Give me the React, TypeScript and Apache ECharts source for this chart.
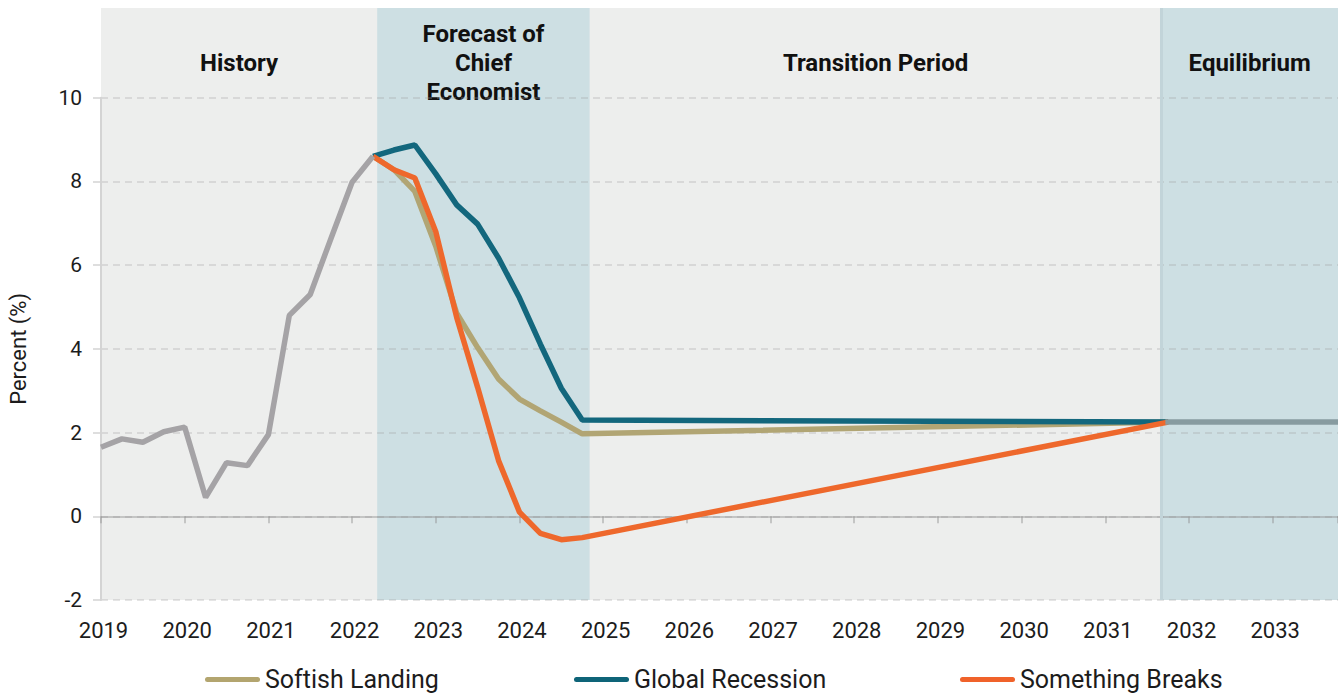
import React, { useEffect, useRef } from "react";
import * as echarts from "echarts";

// ---------- data ----------
const history: [string, number][] = [
  ["2019Q1", 1.65], ["2019Q2", 1.85], ["2019Q3", 1.77], ["2019Q4", 2.02],
  ["2020Q1", 2.13], ["2020Q2", 0.45], ["2020Q3", 1.28], ["2020Q4", 1.21],
  ["2021Q1", 1.95], ["2021Q2", 4.8], ["2021Q3", 5.3], ["2021Q4", 6.65],
  ["2022Q1", 7.98], ["2022Q2", 8.6],
];

const softishLanding: [string, number][] = [
  ["2022Q2", 8.6], ["2022Q3", 8.28], ["2022Q4", 7.76], ["2023Q1", 6.45],
  ["2023Q2", 4.85], ["2023Q3", 4.03], ["2023Q4", 3.28], ["2024Q1", 2.8],
  ["2024Q2", 2.52], ["2024Q3", 2.25], ["2024Q4", 1.97], ["2031Q4", 2.25],
];

const globalRecession: [string, number][] = [
  ["2022Q2", 8.6], ["2022Q3", 8.75], ["2022Q4", 8.87], ["2023Q1", 8.18],
  ["2023Q2", 7.44], ["2023Q3", 6.98], ["2023Q4", 6.17], ["2024Q1", 5.22],
  ["2024Q2", 4.11], ["2024Q3", 3.06], ["2024Q4", 2.3], ["2031Q4", 2.25],
];

const somethingBreaks: [string, number][] = [
  ["2022Q2", 8.6], ["2022Q3", 8.28], ["2022Q4", 8.08], ["2023Q1", 6.8],
  ["2023Q2", 4.75], ["2023Q3", 3.08], ["2023Q4", 1.33], ["2024Q1", 0.1],
  ["2024Q2", -0.41], ["2024Q3", -0.56], ["2024Q4", -0.51], ["2031Q4", 2.25],
];

const equilibrium: [string, number][] = [
  ["2031Q4", 2.25], ["2033Q4", 2.25],
];

const phaseNames = ["History", "Forecast of\nChief\nEconomist", "Transition Period", "Equilibrium"];
const phaseStarts = [2019, 2022.3, 2024.84, 2031.67];
const phaseEnds = [2022.3, 2024.84, 2031.67, 2033.78];

const xMin = 2019;
const xMax = 2033.78;
const yMin = -2;
const yMax = 10;
const yInterval = 2;

// ---------- helpers ----------
const quarterToYear = (q: string) => Number(q.slice(0, 4)) + (Number(q.slice(5)) - 1) * 0.25;
const toPoints = (pairs: [string, number][]) => pairs.map(([q, v]) => [quarterToYear(q), v]);

const FONT = "Roboto";
const TEXT = "#1c1c1c";
const GREY_BG = "#EDEEED";
const BLUE_BG = "#CDDFE3";
const GRID_LINE = "rgba(160,160,160,0.36)";
const ZERO_LINE = "rgba(140,140,140,0.42)";

const LEGEND_ICON = "path://M2.5,0 L52.5,0 A2.5,2.5 0 0 1 52.5,5 L2.5,5 A2.5,2.5 0 0 1 2.5,0 Z";

const scenarios = [
  { name: "Softish Landing", data: softishLanding, normal: "#B1A574", forecast: "#8F9A6C", legend: "#B3A56F", left: 205 },
  { name: "Global Recession", data: globalRecession, normal: "#13677D", forecast: "#0D6074", legend: "#0E6478", left: 574 },
  { name: "Something Breaks", data: somethingBreaks, normal: "#EE682C", forecast: "#C95B27", legend: "#F0622A", left: 960 },
];

export default function App() {
  const ref = useRef<HTMLDivElement>(null);

  useEffect(() => {
    if (!ref.current) return;
    const chart = echarts.init(ref.current, undefined, { renderer: "svg" });

    const bandColors = [GREY_BG, BLUE_BG, GREY_BG, BLUE_BG];

    const option: any = {
      animation: false,
      textStyle: { fontFamily: FONT },
      grid: [
        { left: 101, right: 0, top: 97.7, bottom: 96, containLabel: false, outerBoundsMode: "none" },
        {
          left: 101, right: 0, top: 8, bottom: 96, show: true, backgroundColor: GREY_BG, borderWidth: 0,
          containLabel: false, outerBoundsMode: "none",
        },
      ],
      xAxis: [
        {
          gridIndex: 0, type: "value", min: xMin, max: xMax, interval: 1, position: "bottom", z: 3,
          axisLine: { show: false, onZero: false },
          axisTick: { show: false },
          splitLine: { show: false },
          axisLabel: {
            fontSize: 22, color: TEXT, margin: 19, fontFamily: FONT, padding: [0, 0, 0, 5],
            showMaxLabel: false,
            formatter: (v: number) => (Number.isInteger(v) ? String(v) : ""),
          },
        },
        {
          gridIndex: 0, type: "value", min: xMin, max: xMax, interval: 1, position: "bottom", z: 3,
          axisLine: { show: true, onZero: true, lineStyle: { color: ZERO_LINE, width: 2 } },
          axisTick: { show: true, length: 7, lineStyle: { color: ZERO_LINE, width: 2 } },
          axisLabel: { show: false },
          splitLine: { show: false },
        },
        { gridIndex: 1, type: "value", min: xMin, max: xMax, show: false },
      ],
      yAxis: [
        {
          gridIndex: 0, type: "value", min: yMin, max: yMax, interval: yInterval, z: 3,
          axisLine: { show: true, lineStyle: { color: "#D4D4D4", width: 2 } },
          axisTick: { show: true, length: 8, lineStyle: { color: "#D3D3D3", width: 1.5 } },
          splitLine: { show: true, lineStyle: { color: GRID_LINE, width: 1.5, type: [7, 5] } },
          axisLabel: { fontSize: 21, color: TEXT, margin: 19, fontFamily: FONT },
          name: "Percent (%)",
          nameLocation: "middle",
          nameGap: 72,
          nameTextStyle: { fontSize: 22, color: TEXT, fontFamily: FONT },
        },
        { gridIndex: 1, type: "value", min: 0, max: 1, show: false },
      ],
      legend: scenarios.map((s) => ({
        left: s.left,
        top: 667,
        padding: 0,
        itemWidth: 55,
        itemHeight: 5,
        selectedMode: false,
        icon: LEGEND_ICON,
        textStyle: { fontSize: 25, color: TEXT, fontFamily: FONT },
        data: [{ name: s.name, icon: LEGEND_ICON, itemStyle: { color: s.legend } }],
      })),
      visualMap: scenarios.map((s, i) => ({
        type: "piecewise",
        show: false,
        dimension: 0,
        seriesIndex: i + 1,
        pieces: [
          { gte: xMin, lt: phaseStarts[2], color: s.forecast },
          { gte: phaseStarts[2], lte: xMax, color: s.normal },
        ],
      })),
      series: [
        {
          type: "line",
          name: "phases",
          xAxisIndex: 2,
          yAxisIndex: 1,
          z: 1,
          silent: true,
          data: [[xMin, 0]],
          showSymbol: false,
          symbol: "none",
          lineStyle: { width: 0 },
          markArea: {
            silent: true,
            label: {
              show: true,
              position: ["50%", 55],
              align: "center",
              verticalAlign: "middle",
              fontSize: 24,
              fontWeight: "bold",
              color: "#111",
              lineHeight: 29,
              fontFamily: FONT,
            },
            data: phaseNames.map((n, i) => [
              { name: n, xAxis: phaseStarts[i], itemStyle: { color: bandColors[i], opacity: 1 } },
              { xAxis: phaseEnds[i] },
            ]),
          },
          markLine: {
            silent: true,
            symbol: "none",
            label: { show: false },
            lineStyle: { color: "#C2D4D9", width: 3, type: "solid" },
            data: [{ xAxis: phaseStarts[3] }],
          },
        },
        ...scenarios.map((s) => ({
          type: "line",
          name: s.name,
          xAxisIndex: 0,
          yAxisIndex: 0,
          z: 5,
          data: toPoints(s.data),
          showSymbol: false,
          symbol: "none",
          itemStyle: { color: s.legend },
          lineStyle: { width: 5.5, color: s.normal },
        })),
        {
          type: "line",
          name: "History",
          xAxisIndex: 0,
          yAxisIndex: 0,
          z: 6,
          data: toPoints(history),
          showSymbol: false,
          symbol: "none",
          itemStyle: { color: "#A5A3A6" },
          lineStyle: { width: 5.5, color: "#A5A3A6" },
        },
        {
          type: "line",
          name: "Equilibrium",
          xAxisIndex: 0,
          yAxisIndex: 0,
          z: 6,
          data: toPoints(equilibrium),
          showSymbol: false,
          symbol: "none",
          itemStyle: { color: "#879BA0" },
          lineStyle: { width: 5.5, color: "#879BA0", cap: "square" },
        },
      ],
    };

    chart.setOption(option);
    return () => chart.dispose();
  }, []);

  return (
    <div
      ref={ref}
      style={{ position: "fixed", left: 0, top: 0, width: 1338, height: 696, background: "#fff" }}
    />
  );
}
